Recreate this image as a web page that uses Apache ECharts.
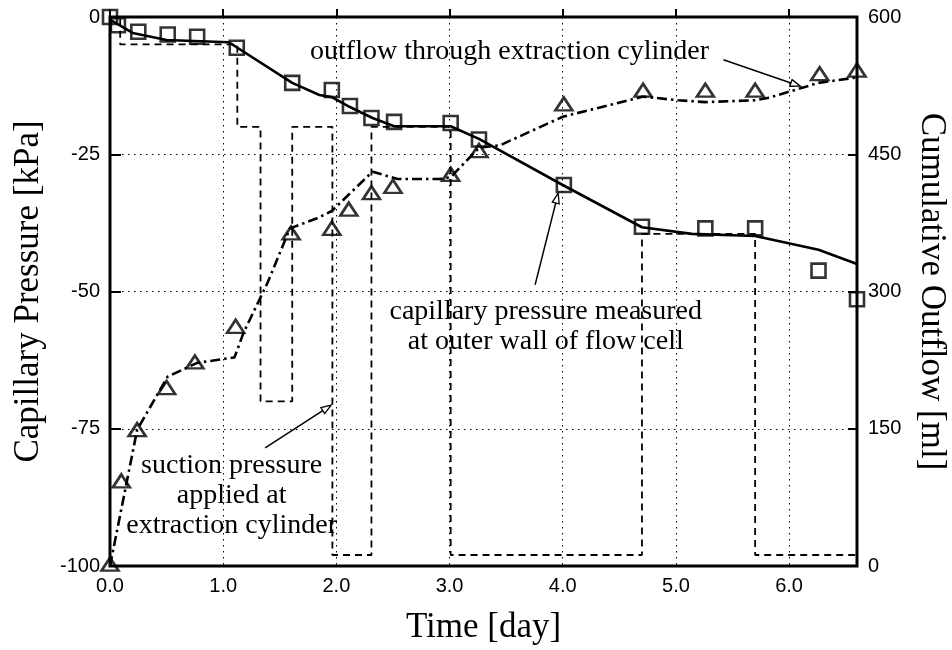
<!DOCTYPE html>
<html><head><meta charset="utf-8">
<script src="https://cdn.jsdelivr.net/npm/echarts/dist/echarts.min.js"></script>
<style>html,body{margin:0;padding:0;background:#fff}#c{width:952px;height:650px}</style>
</head><body><div id="c"></div>
<script>
// ---- data ----
const xTickValues = [0, 1, 2, 3, 4, 5, 6];
const leftTickValues = [0, -25, -50, -75, -100];
const rightTickValues = [0, 150, 300, 450, 600];

// measured capillary pressure (squares), kPa
const squareT = [0, 0.07, 0.25, 0.51, 0.77, 1.12, 1.61, 1.96, 2.12, 2.31, 2.51, 3.01, 3.26, 4.01, 4.70, 5.26, 5.70, 6.26, 6.60];
const squareP = [0, -1.5, -2.7, -3.2, -3.6, -5.6, -12.0, -13.3, -16.2, -18.4, -19.1, -19.3, -22.3, -30.6, -38.2, -38.5, -38.5, -46.2, -51.4];

// capillary pressure curve (solid), kPa
const capCurveT = [0, 0.2, 0.5, 1.05, 1.61, 1.85, 1.96, 2.12, 2.32, 2.51, 3.01, 3.26, 4.0, 4.70, 5.14, 5.70, 6.26, 6.6];
const capCurveP = [-0.5, -2.9, -4.2, -4.6, -12.0, -14.2, -14.6, -16.4, -18.4, -19.9, -19.9, -22.2, -30.6, -38.3, -39.5, -39.9, -42.4, -45.0];

// cumulative outflow (triangles), ml
const triT = [0, 0.10, 0.24, 0.50, 0.75, 1.11, 1.60, 1.96, 2.11, 2.31, 2.50, 3.01, 3.26, 4.01, 4.71, 5.26, 5.70, 6.27, 6.60];
const triV = [2, 93, 149, 195, 223, 262, 364, 369, 390, 408, 415, 428, 454, 505, 520, 520, 520, 538, 542];

// cumulative outflow curve (dash-dot), ml
const outCurveT = [0, 0.24, 0.51, 0.77, 1.10, 1.18, 1.39, 1.59, 1.83, 1.96, 2.32, 2.54, 2.92, 3.01, 3.26, 3.45, 4.0, 4.71, 5.02, 5.26, 5.70, 5.83, 6.26, 6.6];
const outCurveV = [0, 149, 207, 222, 228, 255, 309, 369, 380, 388, 431, 423, 423, 425, 457, 460, 491, 513, 509, 507, 509, 512, 528, 534];

// suction pressure applied at extraction cylinder (dashed step), kPa
const stepT = [0, 0.09, 0.09, 1.125, 1.125, 1.33, 1.33, 1.61, 1.61, 1.965, 1.965, 2.31, 2.31, 3.01, 3.01, 4.70, 4.70, 5.70, 5.70, 6.6];
const stepP = [0, 0, -5, -5, -20, -20, -70, -70, -20, -20, -98, -98, -20, -20, -98, -98, -39.5, -39.5, -98, -98];

// annotations (data coordinates on time / left axis)
const noteTexts = ['outflow through extraction cylinder', 'capillary pressure measured\nat outer wall of flow cell', 'suction pressure\napplied at\nextraction cylinder'];
const noteAt = [[3.53, -6.4], [3.85, -56.4], [1.075, -87.1]];
const noteFrom = [[5.42, -7.8], [3.756, -48.8], [1.371, -78.5]];
const noteTo = [[6.10, -12.6], [3.96, -32.1], [1.954, -70.7]];

const zip = (a, b) => a.map((v, i) => [v, b[i]]);

const chart = echarts.init(document.getElementById('c'), null, {renderer: 'canvas'});
const serif = '"Liberation Serif", "Times New Roman", serif';
const sans = '"Liberation Sans", Arial, sans-serif';
const dotted = {color: '#000', width: 1, type: [1.5, 4.5]};

chart.setOption({
  animation: false,
  backgroundColor: '#fff',
  grid: {left: 110, right: 95, top: 17, bottom: 84, show: true, borderColor: '#000', borderWidth: 3,
    backgroundColor: 'transparent', containLabel: false, outerBoundsMode: 'none'},
  xAxis: {
    type: 'value', min: 0, max: 6.6, interval: 1,
    name: 'Time [day]', nameLocation: 'middle', nameGap: 44,
    nameTextStyle: {fontFamily: serif, fontSize: 35, color: '#000'},
    axisLine: {show: false},
    axisTick: {show: true, inside: true, length: 8, lineStyle: {color: '#000', width: 2}},
    axisLabel: {color: '#000', fontFamily: sans, fontSize: 20, margin: 10, showMaxLabel: false,
      formatter: v => xTickValues.includes(v) ? v.toFixed(1) : ''},
    splitLine: {show: true, lineStyle: dotted}
  },
  yAxis: [{
    type: 'value', min: -100, max: 0, interval: 25, position: 'left',
    name: 'Capillary Pressure [kPa]', nameLocation: 'middle', nameGap: 64,
    nameTextStyle: {fontFamily: serif, fontSize: 35, color: '#000'},
    axisLine: {show: false},
    axisTick: {show: true, inside: true, length: 11, lineStyle: {color: '#000', width: 2}},
    axisLabel: {color: '#000', fontFamily: sans, fontSize: 20, margin: 10,
      formatter: v => leftTickValues.includes(v) ? String(v) : ''},
    splitLine: {show: true, lineStyle: dotted}
  }, {
    type: 'value', min: 0, max: 600, interval: 150, position: 'right',
    name: 'Cumulative Outflow [ml]', nameLocation: 'middle', nameGap: 57, nameRotate: -90,
    nameTextStyle: {fontFamily: serif, fontSize: 35, color: '#000'},
    axisLine: {show: false},
    axisTick: {show: true, inside: true, length: 9, lineStyle: {color: '#000', width: 2}},
    axisLabel: {color: '#000', fontFamily: sans, fontSize: 20, margin: 11,
      formatter: v => rightTickValues.includes(v) ? String(v) : ''},
    splitLine: {show: false}
  }],
  series: [{
    name: 'suction', type: 'line', yAxisIndex: 0, data: zip(stepT, stepP), symbol: 'none',
    lineStyle: {color: '#000', width: 1.8, type: [7, 5]}, z: 2
  }, {
    name: 'capillary curve', type: 'line', yAxisIndex: 0, data: zip(capCurveT, capCurveP), symbol: 'none',
    lineStyle: {color: '#000', width: 2.6}, z: 3
  }, {
    name: 'outflow curve', type: 'line', yAxisIndex: 1, data: zip(outCurveT, outCurveV), symbol: 'none',
    lineStyle: {color: '#000', width: 2.6, type: [10, 4, 2.5, 4]}, z: 3
  }, {
    name: 'capillary measured', type: 'scatter', yAxisIndex: 0, data: zip(squareT, squareP),
    symbol: 'rect', symbolSize: 14, clip: false,
    itemStyle: {color: 'rgba(0,0,0,0)', borderColor: '#000', borderWidth: 2.6}, z: 5
  }, {
    name: 'outflow measured', type: 'scatter', yAxisIndex: 1, data: zip(triT, triV),
    symbol: 'triangle', symbolSize: [17, 13], clip: false,
    itemStyle: {color: 'rgba(0,0,0,0)', borderColor: '#000', borderWidth: 2.6}, z: 5
  }]
});

// annotations: text + open-headed arrows positioned through the axes
const px = p => chart.convertToPixel({seriesIndex: 0}, p);
const graphics = [];
noteTexts.forEach((txt, i) => {
  const c = px(noteAt[i]);
  graphics.push({type: 'text', z: 10, style: {text: txt, x: c[0], y: c[1], font: '28px ' + serif,
    fill: '#000', align: 'center', verticalAlign: 'middle', lineHeight: 30}});
  const a = px(noteFrom[i]), b = px(noteTo[i]);
  const dx = b[0] - a[0], dy = b[1] - a[1], L = Math.hypot(dx, dy);
  const ux = dx / L, uy = dy / L, hl = 10, hw = 3.5;
  const bx = b[0] - ux * hl, by = b[1] - uy * hl;
  graphics.push({type: 'line', z: 10, shape: {x1: a[0], y1: a[1], x2: bx, y2: by}, style: {stroke: '#000', lineWidth: 1.5}});
  graphics.push({type: 'polygon', z: 11, shape: {points: [[b[0], b[1]], [bx - uy * hw, by + ux * hw], [bx + uy * hw, by - ux * hw]]},
    style: {fill: '#fff', stroke: '#000', lineWidth: 1.3}});
});
chart.setOption({graphic: graphics});
</script>
</body></html>
